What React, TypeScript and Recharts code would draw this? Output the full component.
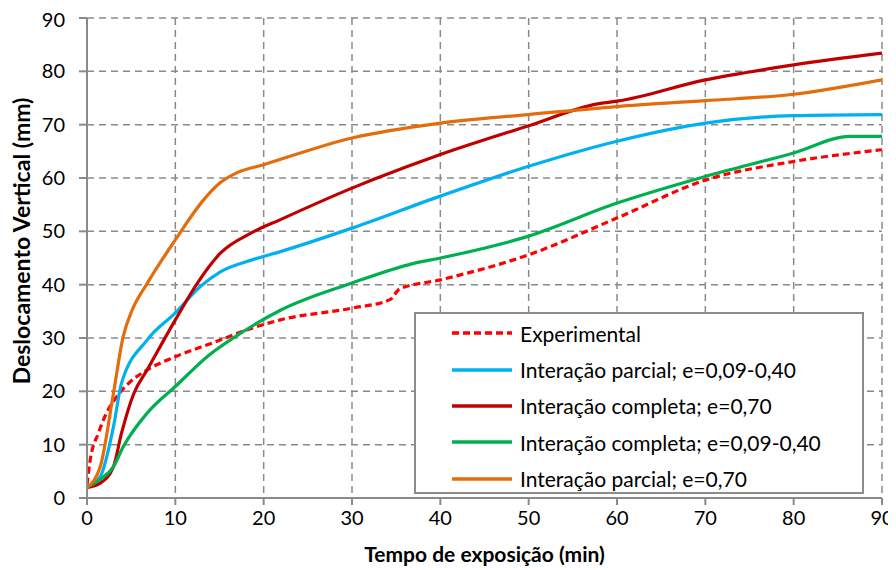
import React from "react";
import { LineChart, Line, XAxis, YAxis, CartesianGrid } from "recharts";

const xTicks = [0, 10, 20, 30, 40, 50, 60, 70, 80, 90];
const yTicks = [0, 10, 20, 30, 40, 50, 60, 70, 80, 90];

const experimental = [
  { x: 0, y: 2.5 }, { x: 0.35, y: 7 }, { x: 1.3, y: 12.2 }, { x: 2.2, y: 15.9 }, { x: 3.2, y: 18.6 },
  { x: 4.9, y: 21.8 }, { x: 6.8, y: 24 }, { x: 10, y: 26.5 }, { x: 14.4, y: 29.2 }, { x: 18.6, y: 31.8 },
  { x: 21.9, y: 33.4 }, { x: 30, y: 35.6 }, { x: 34.3, y: 37.2 }, { x: 35.4, y: 39.2 }, { x: 40, y: 40.9 },
  { x: 50, y: 45.6 }, { x: 60, y: 52.5 }, { x: 70, y: 59.6 }, { x: 80, y: 63.1 }, { x: 90, y: 65.3 },
];
const parcialLow = [
  { x: 0, y: 2 }, { x: 1.5, y: 4 }, { x: 3.0, y: 13.4 }, { x: 3.9, y: 21.5 }, { x: 6.8, y: 29.6 },
  { x: 10, y: 34.7 }, { x: 12.8, y: 39.6 }, { x: 15.1, y: 42.4 }, { x: 18.6, y: 44.6 }, { x: 21.9, y: 46.2 },
  { x: 30, y: 50.6 }, { x: 40, y: 56.6 }, { x: 50, y: 62.2 }, { x: 60, y: 66.9 }, { x: 70, y: 70.3 },
  { x: 80, y: 71.7 }, { x: 90, y: 71.9 },
];
const completaHigh = [
  { x: 0, y: 2 }, { x: 1.5, y: 2.8 }, { x: 3.0, y: 5.9 }, { x: 3.9, y: 12.1 }, { x: 5.3, y: 19.6 },
  { x: 6.8, y: 24 }, { x: 10, y: 33.4 }, { x: 12.5, y: 40.3 }, { x: 15.1, y: 45.9 }, { x: 18.6, y: 49.7 },
  { x: 21.9, y: 52.2 }, { x: 30, y: 58.1 }, { x: 32.4, y: 59.7 }, { x: 40, y: 64.4 }, { x: 50, y: 69.8 },
  { x: 57.8, y: 73.9 }, { x: 60, y: 74.4 }, { x: 70, y: 78.4 }, { x: 80, y: 81.2 }, { x: 90, y: 83.4 },
];
const completaLow = [
  { x: 0, y: 2 }, { x: 1.5, y: 3.5 }, { x: 3.0, y: 5.9 }, { x: 4.1, y: 9.6 }, { x: 6.8, y: 15.9 },
  { x: 10, y: 20.9 }, { x: 13.6, y: 26.5 }, { x: 17.4, y: 30.9 }, { x: 21.9, y: 35.2 }, { x: 30, y: 40.3 },
  { x: 37, y: 44 }, { x: 40, y: 45 }, { x: 50, y: 49.1 }, { x: 60, y: 55.3 }, { x: 70, y: 60.3 },
  { x: 80, y: 64.7 }, { x: 86.4, y: 67.8 }, { x: 90, y: 67.8 },
];
const parcialHigh = [
  { x: 0, y: 2 }, { x: 1.5, y: 5.9 }, { x: 3.0, y: 19.7 }, { x: 4.1, y: 30.3 }, { x: 5.1, y: 35.2 },
  { x: 6.8, y: 40.2 }, { x: 10, y: 48.4 }, { x: 13.2, y: 55.9 }, { x: 15, y: 59 }, { x: 17, y: 61 },
  { x: 20, y: 62.5 }, { x: 30, y: 67.5 }, { x: 40, y: 70.3 }, { x: 50, y: 71.9 }, { x: 60, y: 73.4 },
  { x: 70, y: 74.5 }, { x: 80, y: 75.7 }, { x: 90, y: 78.4 },
];

const seriesList = [
  { name: "Experimental", data: experimental, color: "#FF0000", dash: "7 4" },
  { name: "Interação parcial; e=0,09-0,40", data: parcialLow, color: "#00B0F0", dash: undefined },
  { name: "Interação completa; e=0,70", data: completaHigh, color: "#C00000", dash: undefined },
  { name: "Interação completa; e=0,09-0,40", data: completaLow, color: "#00B050", dash: undefined },
  { name: "Interação parcial; e=0,70", data: parcialHigh, color: "#E46C0A", dash: undefined },
];

const FONT = "Lato, 'Open Sans', sans-serif";
const Y_TITLE = "Deslocamento Vertical (mm)";
const X_TITLE = "Tempo de exposição (min)";

function LegendBox() {
  return (
    <div
      style={{
        position: "absolute",
        left: 406,
        top: 304,
        border: "2px solid #8c8c8c",
        background: "#fff",
        width: 446,
        height: 177,
        fontFamily: FONT,
        fontSize: 21,
        color: "#000",
        paddingTop: 1,
      }}
    >
      {seriesList.map((s) => (
        <div key={s.name} style={{ display: "flex", alignItems: "center", height: 36.4 }}>
          <svg width={100} height={10} style={{ flex: "none" }}>
            <line x1={36} x2={96} y1={5} y2={5} stroke={s.color} strokeWidth={3.5} strokeDasharray={s.dash} />
          </svg>
          <span style={{ marginLeft: 4 }}>{s.name}</span>
        </div>
      ))}
    </div>
  );
}

const YTitle = () => (
  <text
    transform="translate(22, 233) rotate(-90)"
    textAnchor="middle"
    fill="#000"
    fontSize={23}
    fontWeight="bold"
    fontFamily={FONT}
  >
    {Y_TITLE}
  </text>
);

export default function App() {
  return (
    <div style={{ position: "relative", width: 888, height: 562 }}>
      <LineChart width={888} height={562} margin={{ top: 10, right: 14, left: 0, bottom: 0 }}>
        <CartesianGrid stroke="#8a8a8a" strokeWidth={1.5} strokeDasharray="7 5" />
        <XAxis
          type="number"
          dataKey="x"
          domain={[0, 90]}
          ticks={xTicks}
          allowDataOverflow
          height={72}
          stroke="#8a8a8a"
          strokeWidth={2}
          tickSize={7}
          tickMargin={6}
          tick={{ fill: "#000", fontSize: 20, fontFamily: FONT }}
          label={{
            value: X_TITLE,
            position: "insideBottom",
            offset: 8,
            style: { fill: "#000", fontSize: 21, fontWeight: "bold", fontFamily: FONT },
          }}
        />
        <YAxis
          type="number"
          domain={[0, 90]}
          ticks={yTicks}
          allowDataOverflow
          width={79}
          stroke="#8a8a8a"
          strokeWidth={2}
          tickSize={8}
          tickMargin={14}
          tick={{ fill: "#000", fontSize: 20, fontFamily: FONT }}
          label={{ value: Y_TITLE, content: () => <YTitle /> }}
        />
        {seriesList.map((s) => (
          <Line
            key={s.name}
            data={s.data}
            dataKey="y"
            name={s.name}
            type="monotone"
            stroke={s.color}
            strokeWidth={3.2}
            strokeDasharray={s.dash}
            dot={false}
            isAnimationActive={false}
          />
        ))}
      </LineChart>
      <LegendBox />
    </div>
  );
}
